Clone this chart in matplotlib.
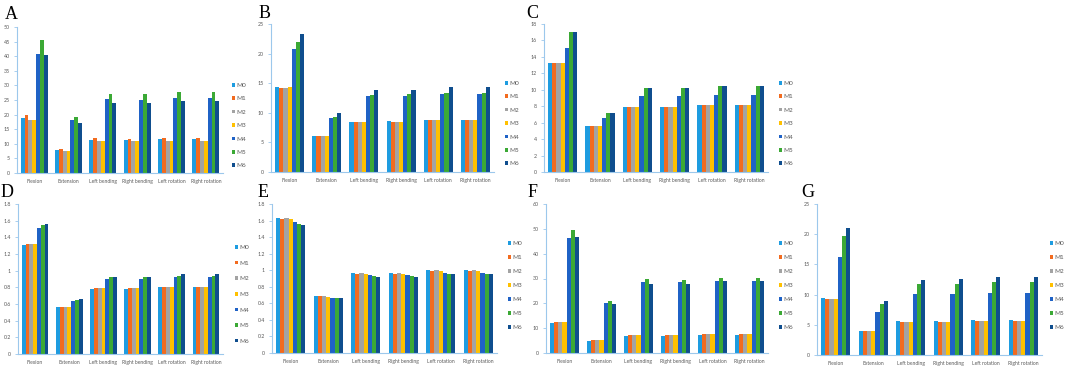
import numpy as np
import matplotlib
matplotlib.use("Agg")
import matplotlib.pyplot as plt
from matplotlib.patches import Patch

W, H = 1065, 370

categories = ["Flexion", "Extension", "Left bending", "Right bending", "Left rotation", "Right rotation"]
models = ["M0", "M1", "M2", "M3", "M4", "M5", "M6"]
colors = ["#1E9CE0", "#F26B1F", "#A3A3A3", "#FFC000", "#1F62C6", "#3BA935", "#0F4E8E"]

# one row per movement, one column per model M0..M6
panel_a = [[19.0, 19.8, 18.0, 18.2, 40.8, 45.4, 40.4],
           [8.0, 8.3, 7.6, 7.6, 18.0, 19.3, 17.2],
           [11.3, 11.9, 10.8, 10.8, 25.3, 27.1, 24.1],
           [11.3, 11.7, 10.8, 10.8, 25.1, 27.0, 24.0],
           [11.6, 12.0, 11.0, 11.0, 25.7, 27.8, 24.7],
           [11.6, 12.0, 11.0, 11.0, 25.7, 27.8, 24.7]]
panel_b = [[14.4, 14.2, 14.2, 14.3, 20.8, 21.9, 23.3],
           [6.1, 6.0, 6.0, 6.0, 9.1, 9.3, 9.9],
           [8.5, 8.4, 8.4, 8.4, 12.9, 13.0, 13.9],
           [8.6, 8.4, 8.4, 8.5, 12.9, 13.1, 13.9],
           [8.8, 8.7, 8.7, 8.7, 13.1, 13.4, 14.3],
           [8.8, 8.7, 8.7, 8.7, 13.1, 13.4, 14.3]]
panel_c = [[13.2, 13.2, 13.2, 13.2, 15.1, 17.0, 17.0],
           [5.6, 5.6, 5.6, 5.6, 6.6, 7.2, 7.2],
           [7.9, 7.9, 7.9, 7.9, 9.3, 10.2, 10.2],
           [7.9, 7.9, 7.9, 7.9, 9.3, 10.2, 10.2],
           [8.1, 8.1, 8.1, 8.1, 9.4, 10.4, 10.4],
           [8.1, 8.1, 8.1, 8.1, 9.4, 10.4, 10.4]]
panel_d = [[1.31, 1.32, 1.32, 1.32, 1.51, 1.55, 1.56],
           [0.56, 0.56, 0.56, 0.56, 0.64, 0.65, 0.66],
           [0.78, 0.79, 0.79, 0.79, 0.90, 0.92, 0.93],
           [0.78, 0.79, 0.79, 0.79, 0.90, 0.92, 0.93],
           [0.80, 0.81, 0.81, 0.81, 0.93, 0.94, 0.96],
           [0.80, 0.81, 0.81, 0.81, 0.93, 0.94, 0.96]]
panel_e = [[1.63, 1.62, 1.63, 1.62, 1.58, 1.56, 1.55],
           [0.69, 0.69, 0.69, 0.68, 0.67, 0.66, 0.66],
           [0.97, 0.96, 0.97, 0.96, 0.94, 0.93, 0.92],
           [0.97, 0.96, 0.97, 0.96, 0.94, 0.93, 0.92],
           [1.00, 0.99, 1.00, 0.99, 0.97, 0.96, 0.95],
           [1.00, 0.99, 1.00, 0.99, 0.97, 0.96, 0.95]]
panel_f = [[11.9, 12.3, 12.3, 12.3, 46.2, 49.7, 46.9],
           [5.0, 5.1, 5.1, 5.1, 20.1, 21.0, 19.8],
           [7.0, 7.2, 7.2, 7.2, 28.5, 29.6, 27.8],
           [7.0, 7.2, 7.2, 7.2, 28.5, 29.4, 27.8],
           [7.3, 7.5, 7.5, 7.5, 28.8, 30.4, 28.8],
           [7.3, 7.5, 7.5, 7.5, 28.8, 30.4, 28.8]]
panel_g = [[9.4, 9.3, 9.2, 9.3, 16.3, 19.7, 21.0],
           [4.0, 3.9, 3.9, 3.9, 7.2, 8.4, 9.0],
           [5.6, 5.5, 5.5, 5.5, 10.1, 11.8, 12.5],
           [5.6, 5.5, 5.5, 5.5, 10.1, 11.8, 12.6],
           [5.8, 5.7, 5.7, 5.7, 10.3, 12.1, 12.9],
           [5.8, 5.7, 5.7, 5.7, 10.3, 12.1, 12.9]]

ticks_a = [0, 5, 10, 15, 20, 25, 30, 35, 40, 45, 50]
ticks_b = [0, 5, 10, 15, 20, 25]
ticks_c = [0, 2, 4, 6, 8, 10, 12, 14, 16, 18]
ticks_de = [0, 0.2, 0.4, 0.6, 0.8, 1, 1.2, 1.4, 1.6, 1.8]
labels_de = ["0", "0.2", "0.4", "0.6", "0.8", "1", "1.2", "1.4", "1.6", "1.8"]
ticks_f = [0, 10, 20, 30, 40, 50, 60]
ticks_g = [0, 5, 10, 15, 20, 25]

spine_col = "#9CC8EC"
text_col = "#595959"
plt.rcParams["font.family"] = ["Lato", "DejaVu Sans"]

fig = plt.figure(figsize=(W / 100, H / 100), dpi=100)


def draw_panel(box, data, ticks, letter, letter_xy, legend_xy, spacing, ticklabels=None):
    # box = (left, top, right, bottom) in pixels
    l, t, r, b = box
    ax = fig.add_axes([l / W, 1 - b / H, (r - l) / W, (b - t) / H])
    vals = np.array(data)
    x = np.arange(len(categories))
    w = 0.78 / len(models)
    for i, m in enumerate(models):
        ax.bar(x + (i - 3) * w, vals[:, i], width=w, color=colors[i], label=m, linewidth=0)
    ax.set_xlim(-0.5, len(categories) - 0.5)
    ax.set_ylim(ticks[0], ticks[-1])
    ax.set_yticks(ticks)
    if ticklabels is not None:
        ax.set_yticklabels(ticklabels)
    ax.set_xticks(x)
    ax.set_xticklabels(categories)
    for s in ["top", "right"]:
        ax.spines[s].set_visible(False)
    for s in ["left", "bottom"]:
        ax.spines[s].set_color(spine_col)
        ax.spines[s].set_linewidth(0.8)
    ax.tick_params(axis="y", labelsize=3.8, colors=spine_col, labelcolor=text_col, length=2, width=0.6, pad=3)
    ax.tick_params(axis="x", labelsize=3.6, length=0, labelcolor=text_col, pad=4)
    ax.set_facecolor("none")
    handles = [Patch(facecolor=c, label=m) for c, m in zip(colors, models)]
    fig.legend(handles=handles, loc="upper left", bbox_to_anchor=(legend_xy[0] / W, 1 - legend_xy[1] / H),
               frameon=False, fontsize=4.6, handlelength=0.5, handleheight=0.5, handletextpad=0.25,
               labelspacing=spacing, borderpad=0, borderaxespad=0, labelcolor=text_col)
    fig.text(letter_xy[0] / W, 1 - letter_xy[1] / H, letter, fontsize=13, family="Liberation Serif",
             va="baseline", ha="left")
    return ax


draw_panel((17, 27, 223, 173), panel_a, ticks_a, "A", (5, 19), (232, 83), 1.3)
draw_panel((271, 24, 494, 172), panel_b, ticks_b, "B", (259, 18), (505, 81), 1.3)
draw_panel((544, 24, 768, 172), panel_c, ticks_c, "C", (526, 18), (779, 81), 1.3)
draw_panel((18, 204, 223, 354), panel_d, ticks_de, "D", (1, 197), (235, 245), 1.65, labels_de)
draw_panel((272, 204, 497, 353), panel_e, ticks_de, "E", (258, 197), (508, 241), 1.4, labels_de)
draw_panel((546, 204, 768, 353), panel_f, ticks_f, "F", (528, 197), (779, 241), 1.4)
draw_panel((817, 204, 1042, 355), panel_g, ticks_g, "G", (801, 197), (1050, 241), 1.4)

fig.savefig("out.png", dpi=100)
